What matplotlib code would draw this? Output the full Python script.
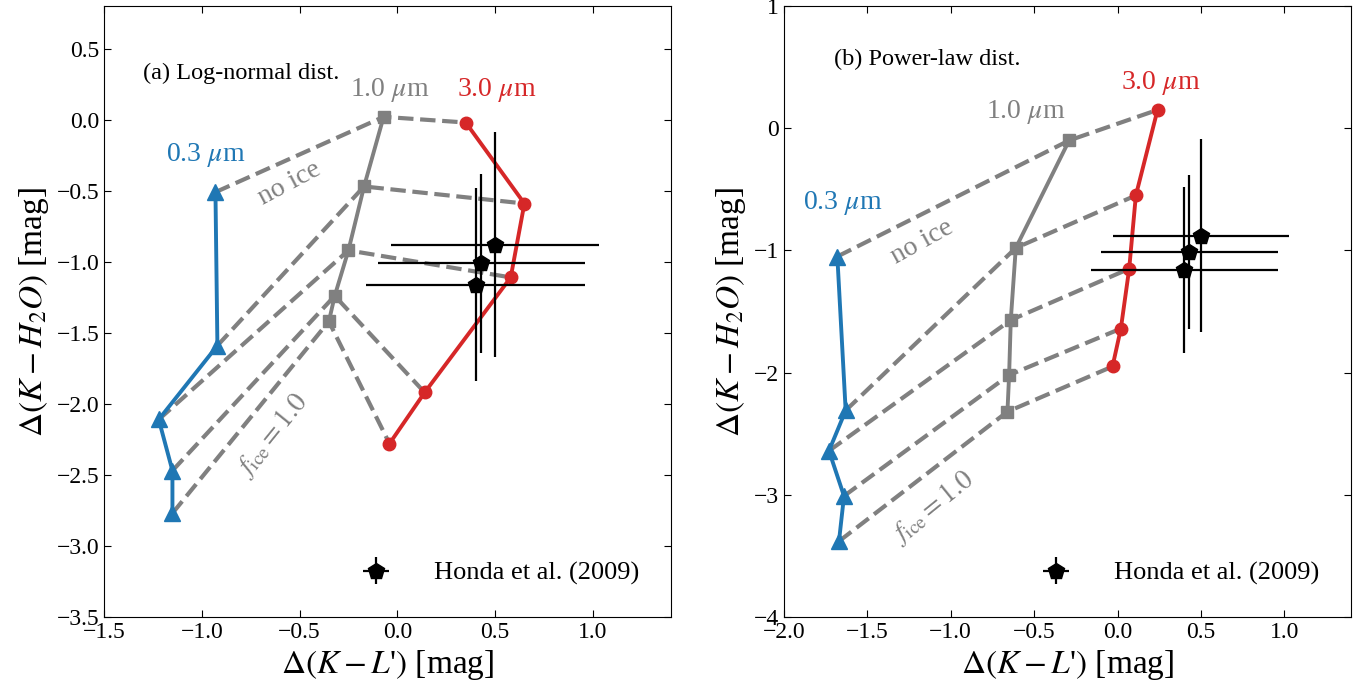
import matplotlib
matplotlib.use("Agg")
import matplotlib.pyplot as plt
import numpy as np

## -----------------------------------------------------------------------------
## K-L' vs K-H2O colour offsets, log-normal and power-law size dists
## -----------------------------------------------------------------------------

plt.rcParams["font.family"] = "serif"
plt.rcParams["font.serif"] = ["Liberation Serif", "DejaVu Serif"]
plt.rcParams["mathtext.fontset"] = "stix"

c_small = "#1f77b4"
c_mid = "gray"
c_large = "#d62728"

## -----------------------------------------------------------------------------
# (a) log-normal, rows = f_ice from 0 (no ice) to 1.0
ln_03_x = [-0.93, -0.92, -1.22, -1.15, -1.15]
ln_03_y = [-0.51, -1.59, -2.11, -2.47, -2.77]
ln_10_x = [-0.07, -0.17, -0.25, -0.32, -0.35]
ln_10_y = [0.02, -0.47, -0.92, -1.24, -1.42]
ln_30_x = [0.35, 0.65, 0.58, 0.14, -0.04]
ln_30_y = [-0.02, -0.59, -1.11, -1.92, -2.28]

# (b) power-law
pl_03_x = [-1.68, -1.63, -1.73, -1.64, -1.67]
pl_03_y = [-1.05, -2.31, -2.64, -3.01, -3.38]
pl_10_x = [-0.29, -0.61, -0.64, -0.65, -0.66]
pl_10_y = [-0.10, -0.98, -1.57, -2.02, -2.32]
pl_30_x = [0.24, 0.11, 0.07, 0.02, -0.03]
pl_30_y = [0.15, -0.55, -1.15, -1.64, -1.95]

# Honda et al. (2009)
obs_x = [0.50, 0.43, 0.40]
obs_y = [-0.88, -1.01, -1.16]
obs_xerr = [0.53, 0.53, 0.56]
obs_yerr = [0.79, 0.63, 0.68]

fig = plt.figure(figsize=(13.72, 6.91), dpi=100)
ax1 = fig.add_axes([0.0758, 0.1071, 0.4133, 0.8842])
ax2 = fig.add_axes([0.5714, 0.1071, 0.4133, 0.8842])


def draw(ax, sx, sy, mx, my, lx, ly):
    for i in range(len(sx)):
        ax.plot([sx[i], mx[i], lx[i]], [sy[i], my[i], ly[i]], "--", color=c_mid, lw=3, zorder=1)
    ax.plot(sx, sy, "-^", color=c_small, lw=2.8, ms=11, zorder=2)
    ax.plot(mx, my, "-s", color=c_mid, lw=2.8, ms=8, zorder=2)
    ax.plot(lx, ly, "-o", color=c_large, lw=2.8, ms=9, zorder=2)
    ax.errorbar(obs_x, obs_y, xerr=obs_xerr, yerr=obs_yerr, fmt="p", color="k",
                ms=12, elinewidth=1.6, capsize=0, zorder=3, label="Honda et al. (2009)")
    ax.legend(loc="lower right", frameon=False, fontsize=19, handletextpad=1.2,
              borderaxespad=0.8)
    ax.tick_params(direction="in", top=True, right=True, labelsize=17, length=5)
    ax.set_xlabel(r"$\Delta(K-L$'$)$ [mag]", fontsize=24)
    ax.set_ylabel(r"$\Delta(K-H_2O)$ [mag]", fontsize=24)


## -----------------------------------------------------------------------------
# plot
draw(ax1, ln_03_x, ln_03_y, ln_10_x, ln_10_y, ln_30_x, ln_30_y)
ax1.set_xlim(-1.5, 1.4)
ax1.set_ylim(-3.5, 0.8)
ax1.set_xticks([-1.5, -1.0, -0.5, 0.0, 0.5, 1.0])
ax1.set_yticks(np.arange(-3.5, 0.51, 0.5))
ax1.text(0.068, 0.89, "(a) Log-normal dist.", transform=ax1.transAxes, fontsize=17.5, va="center")
ax1.text(-0.98, -0.25, r"0.3 $\mu$m", color=c_small, fontsize=20, ha="center", va="center")
ax1.text(-0.04, 0.21, r"1.0 $\mu$m", color=c_mid, fontsize=20, ha="center", va="center")
ax1.text(0.51, 0.21, r"3.0 $\mu$m", color=c_large, fontsize=20, ha="center", va="center")
ax1.text(-0.55, -0.45, "no ice", color=c_mid, fontsize=20, rotation=28, ha="center", va="center")
ax1.text(-0.64, -2.22, r"$f_{\rm ice}=1.0$", color=c_mid, fontsize=20, rotation=51,
         ha="center", va="center")

draw(ax2, pl_03_x, pl_03_y, pl_10_x, pl_10_y, pl_30_x, pl_30_y)
ax2.set_xlim(-2.0, 1.4)
ax2.set_ylim(-4, 1)
ax2.set_xticks([-2.0, -1.5, -1.0, -0.5, 0.0, 0.5, 1.0])
ax2.set_yticks([-4, -3, -2, -1, 0, 1])
ax2.text(0.088, 0.912, "(b) Power-law dist.", transform=ax2.transAxes, fontsize=17.5, va="center")
ax2.text(-1.65, -0.61, r"0.3 $\mu$m", color=c_small, fontsize=20, ha="center", va="center")
ax2.text(-0.55, 0.13, r"1.0 $\mu$m", color=c_mid, fontsize=20, ha="center", va="center")
ax2.text(0.26, 0.37, r"3.0 $\mu$m", color=c_large, fontsize=20, ha="center", va="center")
ax2.text(-1.17, -0.93, "no ice", color=c_mid, fontsize=20, rotation=29, ha="center", va="center")
ax2.text(-1.11, -3.10, r"$f_{\rm ice}=1.0$", color=c_mid, fontsize=20, rotation=39,
         ha="center", va="center")

fig.savefig("out.png", dpi=100)
